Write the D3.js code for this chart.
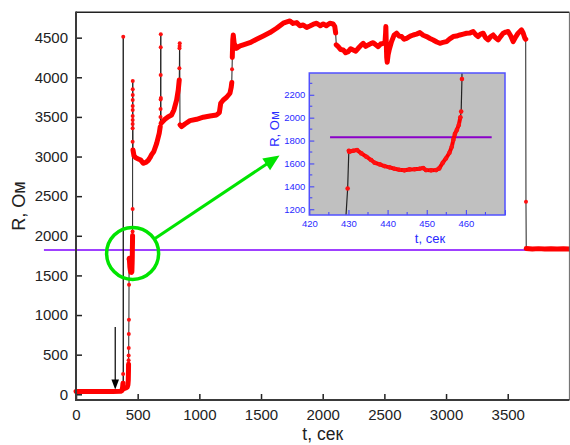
<!DOCTYPE html>
<html>
<head>
<meta charset="utf-8">
<script src="https://cdn.jsdelivr.net/npm/d3@7"></script>
<style>
  body { margin: 0; background: #fff; }
  svg { display: block; font-family: "Liberation Sans", Arial, sans-serif; }
</style>
</head>
<body>
<svg id="chart" width="570" height="445"></svg>
<script>
/* ticks */
var xTicks = [0, 500, 1000, 1500, 2000, 2500, 3000, 3500];
var yTicks = [0, 500, 1000, 1500, 2000, 2500, 3000, 3500, 4000, 4500];
var insetXTicks = [420, 430, 440, 450, 460, 470];
var insetXMinor = [425, 435, 445, 455, 465];
var insetYTicks = [1200, 1400, 1600, 1800, 2000, 2200];
var insetYMinor = [1300, 1500, 1700, 1900, 2100, 2300];

/* reference level (purple) */
var refLevel = 1820;
var refSpan = [-260, 4000];
var insetRefLevel = 1830;
var insetRefSpan = [425.3, 466.6];

/* measured R(t), in time order; dense runs and single samples */
var baseline = [[0,35],[60,36],[120,35],[180,36],[240,35],[300,36],[360,37],[372,45],[378,90],[381,140]];
var spike1 = [[382,256],[383,4510]];
var preRise = [[385,70],[395,75],[405,80],[415,90],[421,120],[424,180],[425.5,300],[426,380]];
var riseDots = [[426.5,430],[427,490],[427.5,585],[428,760],[429,940],[429.8,1381]];
var plateau = [[430.1,1711],[430.2,1702],[431.2,1711],[432.2,1717],[433.3,1688],[434.6,1659],[435.8,1630],
  [436.7,1606],[438,1592],[439.2,1577],[440.5,1566],[441.8,1554],[443,1545],[444.3,1540],[445.6,1548],
  [446.9,1550],[448.1,1554],[449.1,1560],[449.8,1542],[451.1,1540],[452.4,1542],[453.2,1557],[454.1,1606],
  [454.9,1644],[455.8,1694],[456.4,1746],[456.8,1806],[457.2,1858],[457.7,1893],[458.2,1937],[458.6,2004]];
var jump1 = [[458.8,2053],[459,2337],[459.1,3188],[459.2,3357],[459.3,3411],[459.4,3461],[459.5,3512],
  [459.6,3588],[459.7,3638],[459.8,3714],[459.9,3777],[460,3849],[460.1,3954]];
var recovery = [[462,3083],[470,3010],[485,2985],[505,2970],[525,2955],[545,2915],[565,2925],[585,2950],
  [600,2985],[615,3030],[630,3060],[654,3167],[675,3294],[683,3377]];
var spike2 = [[685,3500],[685.5,3600],[686,3720],[686.5,4030],[687,4380],[687.5,4543],[688,3740]];
var midCurve = [[690,3420],[721,3470],[748,3503],[775,3525],[794,3588],[816,3714],[829,3840],[837,3966]];
var spike3 = [[838,4114],[839,4366],[840,4395],[841,4430]];
var shelf = [[843,3399],[856,3377],[883,3411],[924,3453],[978,3470],[1032,3496],[1086,3512],[1140,3525],
  [1162,3554],[1173,3672],[1194,3714],[1221,3748],[1248,3799],[1258,3870],[1263,3935]];
var jump2 = [[1265,4100]];
var high = [[1267,4250],[1271,4471],[1275,4534],[1282,4430],[1300,4366],[1330,4395],[1356,4408],[1410,4437],
  [1464,4480],[1518,4522],[1572,4564],[1626,4619],[1680,4682],[1734,4711],[1760,4680],[1789,4690],[1815,4650],
  [1842,4660],[1870,4630],[1896,4648],[1925,4670],[1951,4682],[1980,4650],[2004,4673],[2030,4650],[2058,4682],
  [2085,4673],[2098,4640],[2105,4560]];
var dip = [[2110,4410],[2126,4387],[2146,4350],[2166,4345],[2186,4310],[2207,4324],[2227,4360],[2247,4345],
  [2268,4330],[2288,4366],[2308,4400],[2328,4429],[2349,4390],[2369,4408],[2389,4425],[2409,4437],[2430,4410],
  [2450,4387],[2470,4420],[2490,4429],[2505,4440],[2510,4560],[2512,4640],[2515,4450],[2519,4250],[2523,4190],
  [2530,4280],[2539,4345],[2558,4450],[2578,4530],[2599,4556],[2620,4520],[2639,4514],[2660,4480],[2680,4492],
  [2710,4520],[2734,4534],[2760,4545],[2788,4564],[2815,4530],[2842,4514],[2870,4490],[2896,4471],[2925,4445],
  [2950,4429],[2975,4440],[3004,4450],[3030,4485],[3058,4514],[3085,4520],[3112,4534],[3140,4545],[3166,4556],
  [3195,4560],[3220,4577],[3240,4540],[3260,4514],[3280,4545],[3301,4556],[3320,4500],[3341,4471],[3360,4510],
  [3382,4534],[3400,4500],[3422,4471],[3440,4510],[3463,4556],[3483,4570],[3503,4577],[3525,4520],[3544,4450],
  [3565,4510],[3584,4556],[3600,4580],[3612,4598],[3625,4560],[3639,4492],[3646,4480]];
var fall = [[3648,2430]];
var tail = [[3650,1840],[3700,1832],[3750,1838],[3800,1833],[3850,1837],[3900,1832],[3950,1836],[4000,1834]];

var runs = [baseline, spike1, preRise, riseDots, plateau, jump1, recovery, spike2, midCurve, spike3,
  shelf, jump2, high, dip, fall, tail];
var denseRuns = [baseline, preRise, plateau, recovery, midCurve, shelf, high, dip, tail];
var singleRuns = [spike1, riseDots, jump1, spike2, spike3, jump2, fall];

function drawChart() {
  var svg = d3.select('#chart');
  var all = d3.merge(runs);
  var singles = d3.merge(singleRuns);
  var fmt = d3.format('d');

  /* main scales */
  var pLeft = 76, pRight = 569.4, pTop = 12.3, pBottom = 400;
  var x = d3.scaleLinear().domain([0, 4000]).range([pLeft, pRight]);
  var y = d3.scaleLinear().domain([-72, 4820]).range([pBottom, pTop]);

  /* axes */
  var gx = svg.append('g').attr('transform', 'translate(0,' + pBottom + ')')
    .call(d3.axisBottom(x).tickValues(xTicks).tickFormat(fmt).tickSizeInner(-6).tickSizeOuter(0).tickPadding(9));
  var gy = svg.append('g').attr('transform', 'translate(' + pLeft + ',0)')
    .call(d3.axisLeft(y).tickValues(yTicks).tickFormat(fmt).tickSizeInner(-6).tickSizeOuter(0).tickPadding(8));
  [gx, gy].forEach(g => {
    g.select('.domain').remove();
    g.selectAll('line').attr('stroke', '#222').attr('stroke-width', 1.5);
    g.selectAll('text').attr('fill', '#222').style('font-size', '15px');
  });

  svg.append('text').attr('x', (pLeft + pRight) / 2).attr('y', 440)
    .attr('text-anchor', 'middle').style('font-size', '17.5px').attr('fill', '#222').text('t, сек');
  svg.append('text').attr('transform', 'translate(25,' + (pTop + pBottom) / 2 + ') rotate(-90)')
    .attr('text-anchor', 'middle').style('font-size', '18px').attr('fill', '#222').text('R, Ом');

  /* reference level */
  svg.append('line')
    .attr('x1', x(refSpan[0])).attr('x2', x(refSpan[1])).attr('y1', y(refLevel)).attr('y2', y(refLevel))
    .attr('stroke', '#7f00ff').attr('stroke-width', 1.5);

  /* data */
  var line = d3.line().x(d => x(d[0])).y(d => y(d[1]));
  var plot = svg.append('g');
  plot.append('path').attr('d', line(all))
    .attr('fill', 'none').attr('stroke', '#222').attr('stroke-width', 1);
  denseRuns.forEach(run => {
    plot.append('path').attr('d', line(run))
      .attr('fill', 'none').attr('stroke', '#ff0000').attr('stroke-width', 5)
      .attr('stroke-linejoin', 'round').attr('stroke-linecap', 'round');
  });
  plot.selectAll('circle.dot').data(singles).enter().append('circle')
    .attr('cx', d => x(d[0])).attr('cy', d => y(d[1])).attr('r', 2).attr('fill', '#ff1010');

  /* frame */
  svg.append('line').attr('x1', pLeft).attr('x2', pRight).attr('y1', pTop).attr('y2', pTop)
    .attr('stroke', '#222').attr('stroke-width', 1.5);
  svg.append('line').attr('x1', pRight).attr('x2', pRight).attr('y1', pTop).attr('y2', pBottom)
    .attr('stroke', '#666').attr('stroke-width', 1);
  svg.append('line').attr('x1', pLeft).attr('x2', pLeft).attr('y1', pTop - 0.7).attr('y2', pBottom + 1)
    .attr('stroke', '#3a3a3a').attr('stroke-width', 2);
  svg.append('line').attr('x1', pLeft - 1).attr('x2', pRight).attr('y1', pBottom).attr('y2', pBottom)
    .attr('stroke', '#3a3a3a').attr('stroke-width', 2);

  /* black arrow */
  var ax = x(318), ay0 = y(850), ay1 = y(62);
  svg.append('line').attr('x1', ax).attr('x2', ax).attr('y1', ay0).attr('y2', ay1 - 9)
    .attr('stroke', '#000').attr('stroke-width', 1.2);
  svg.append('path').attr('d', 'M' + (ax - 3.8) + ',' + (ay1 - 10) + 'L' + (ax + 3.8) + ',' + (ay1 - 10) + 'L' + ax + ',' + ay1 + 'Z')
    .attr('fill', '#000');

  /* green circle + arrow */
  var cx = x(459), cy = y(1777), cr = 26;
  svg.append('circle').attr('cx', cx).attr('cy', cy).attr('r', cr)
    .attr('fill', 'none').attr('stroke', '#00e400').attr('stroke-width', 3.5);
  var tip = [279.5, 155.5];
  var dx = tip[0] - cx, dy = tip[1] - cy, len = Math.sqrt(dx * dx + dy * dy);
  var ux = dx / len, uy = dy / len;
  var base = [tip[0] - 16 * ux, tip[1] - 16 * uy];
  svg.append('line').attr('x1', cx + cr * ux).attr('y1', cy + cr * uy).attr('x2', base[0] + 2 * ux).attr('y2', base[1] + 2 * uy)
    .attr('stroke', '#00e400').attr('stroke-width', 3);
  svg.append('path')
    .attr('d', 'M' + tip[0] + ',' + tip[1] + 'L' + (base[0] - 7 * uy) + ',' + (base[1] + 7 * ux) + 'L' + (base[0] + 7 * uy) + ',' + (base[1] - 7 * ux) + 'Z')
    .attr('fill', '#00e400');

  /* inset */
  var iLeft = 309.3, iRight = 505, iTop = 73, iBottom = 215;
  var ix = d3.scaleLinear().domain([420, 470]).range([iLeft, iRight]);
  var iy = d3.scaleLinear().domain([1150, 2390]).range([iBottom, iTop]);
  var inset = svg.append('g');
  inset.append('rect').attr('x', iLeft).attr('y', iTop).attr('width', iRight - iLeft).attr('height', iBottom - iTop)
    .attr('fill', '#c0c0c0');
  svg.append('clipPath').attr('id', 'inset-clip').append('rect')
    .attr('x', iLeft).attr('y', iTop).attr('width', iRight - iLeft).attr('height', iBottom - iTop);

  var ig = inset.append('g').attr('clip-path', 'url(#inset-clip)');
  ig.append('line')
    .attr('x1', ix(insetRefSpan[0])).attr('x2', ix(insetRefSpan[1])).attr('y1', iy(insetRefLevel)).attr('y2', iy(insetRefLevel))
    .attr('stroke', '#8a00c8').attr('stroke-width', 2);
  var iline = d3.line().x(d => ix(d[0])).y(d => iy(d[1]));
  ig.append('path').attr('d', iline(all))
    .attr('fill', 'none').attr('stroke', '#222').attr('stroke-width', 1.2);
  ig.append('path').attr('d', iline(plateau))
    .attr('fill', 'none').attr('stroke', '#ff0000').attr('stroke-width', 4)
    .attr('stroke-linejoin', 'round').attr('stroke-linecap', 'round');
  ig.selectAll('circle').data(d3.merge([singles, plateau])).enter().append('circle')
    .attr('cx', d => ix(d[0])).attr('cy', d => iy(d[1])).attr('r', 2.3).attr('fill', '#ff1010');

  var igx = inset.append('g').attr('transform', 'translate(0,' + iBottom + ')')
    .call(d3.axisBottom(ix).tickValues(insetXTicks).tickFormat(d => d < 470 ? fmt(d) : '')
      .tickSizeInner(-5).tickSizeOuter(0).tickPadding(5));
  var igy = inset.append('g').attr('transform', 'translate(' + iLeft + ',0)')
    .call(d3.axisLeft(iy).tickValues(insetYTicks).tickFormat(fmt).tickSizeInner(-5).tickSizeOuter(0).tickPadding(4));
  [igx, igy].forEach(g => {
    g.select('.domain').remove();
    g.selectAll('line').attr('stroke', '#3a3aff').attr('stroke-width', 1);
    g.selectAll('text').attr('fill', '#2a2aff').style('font-size', '9.5px');
  });
  insetXMinor.forEach(v => {
    inset.append('line').attr('x1', ix(v)).attr('x2', ix(v)).attr('y1', iBottom).attr('y2', iBottom - 3)
      .attr('stroke', '#3a3aff');
  });
  insetYMinor.forEach(v => {
    inset.append('line').attr('x1', iLeft).attr('x2', iLeft + 3).attr('y1', iy(v)).attr('y2', iy(v))
      .attr('stroke', '#3a3aff');
  });
  inset.append('rect').attr('x', iLeft).attr('y', iTop).attr('width', iRight - iLeft).attr('height', iBottom - iTop)
    .attr('fill', 'none').attr('stroke', '#5050ff').attr('stroke-width', 1.5);
  inset.append('text').attr('x', 430).attr('y', 243).attr('text-anchor', 'middle')
    .style('font-size', '13px').attr('fill', '#2a2aff').text('t, сек');
  inset.append('text').attr('transform', 'translate(279,129) rotate(-90)').attr('text-anchor', 'middle')
    .style('font-size', '13px').attr('fill', '#2a2aff').text('R, Ом');
}

drawChart();
</script>
</body>
</html>
